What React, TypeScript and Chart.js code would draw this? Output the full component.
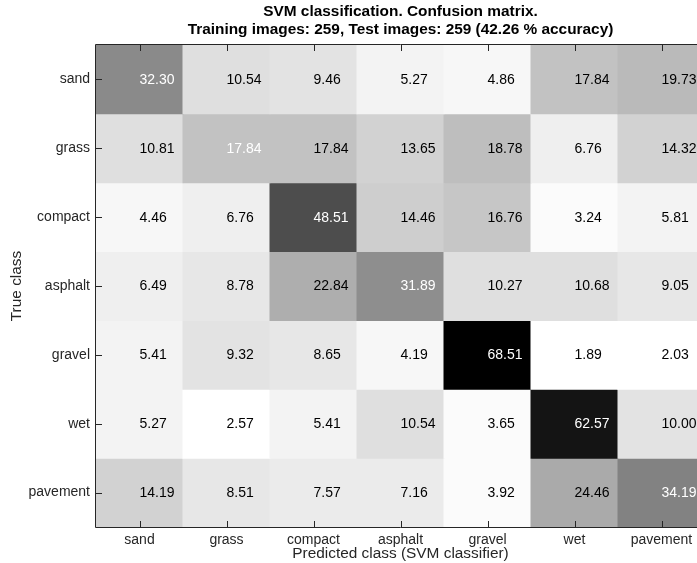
import React, { useEffect, useRef } from "react";
import { Chart, registerables } from "chart.js";

Chart.register(...registerables);

const classes = ["sand", "grass", "compact", "asphalt", "gravel", "wet", "pavement"];

const sandRow = [32.3, 10.54, 9.46, 5.27, 4.86, 17.84, 19.73];
const grassRow = [10.81, 17.84, 17.84, 13.65, 18.78, 6.76, 14.32];
const compactRow = [4.46, 6.76, 48.51, 14.46, 16.76, 3.24, 5.81];
const asphaltRow = [6.49, 8.78, 22.84, 31.89, 10.27, 10.68, 9.05];
const gravelRow = [5.41, 9.32, 8.65, 4.19, 68.51, 1.89, 2.03];
const wetRow = [5.27, 2.57, 5.41, 10.54, 3.65, 62.57, 10.0];
const pavementRow = [14.19, 8.51, 7.57, 7.16, 3.92, 24.46, 34.19];

const matrix = [sandRow, grassRow, compactRow, asphaltRow, gravelRow, wetRow, pavementRow];

const titleLines = [
  "SVM classification. Confusion matrix.",
  "Training images: 259, Test images: 259 (42.26 % accuracy)",
];
const xTitle = "Predicted class (SVM classifier)";
const yTitle = "True class";

const FONT = "'Liberation Sans', Arial, Helvetica, sans-serif";
const AXIS_COLOR = "#262626";

const allVals = matrix.flat();
const vMin = Math.min(...allVals);
const vMax = Math.max(...allVals);

function grayFor(v: number): string {
  let idx = Math.floor(((v - vMin) / (vMax - vMin)) * 64);
  if (idx > 63) idx = 63;
  if (idx < 0) idx = 0;
  const g = Math.round(255 * (1 - idx / 63));
  return `rgb(${g},${g},${g})`;
}

const overlayPlugin = {
  id: "cmOverlay",
  afterDatasetsDraw(chart: any) {
    const { ctx, chartArea, scales } = chart;
    const xs = scales.x;
    const ys = scales.y;
    ctx.save();
    // cell values
    ctx.font = `14px ${FONT}`;
    ctx.textAlign = "left";
    ctx.textBaseline = "middle";
    matrix.forEach((row, i) => {
      row.forEach((v, j) => {
        const x = xs.getPixelForValue(j);
        const y = ys.getPixelForValue(i);
        ctx.fillStyle = i === j ? "#ffffff" : "#000000";
        ctx.fillText(v.toFixed(2), x, y + 0.5);
      });
    });
    // box
    ctx.strokeStyle = AXIS_COLOR;
    ctx.lineWidth = 1;
    ctx.beginPath();
    ctx.rect(chartArea.left - 0.5, chartArea.top - 0.5, chartArea.right - chartArea.left + 1, chartArea.bottom - chartArea.top + 1);
    ctx.stroke();
    // inward ticks
    const tl = 6;
    ctx.beginPath();
    classes.forEach((_, j) => {
      const x = Math.round(xs.getPixelForValue(j)) + 0.5;
      ctx.moveTo(x, chartArea.top);
      ctx.lineTo(x, chartArea.top + tl);
      ctx.moveTo(x, chartArea.bottom);
      ctx.lineTo(x, chartArea.bottom - tl);
    });
    classes.forEach((_, i) => {
      const y = Math.round(ys.getPixelForValue(i)) + 0.5;
      ctx.moveTo(chartArea.left, y);
      ctx.lineTo(chartArea.left + tl, y);
      ctx.moveTo(chartArea.right, y);
      ctx.lineTo(chartArea.right - tl, y);
    });
    ctx.stroke();
    // titles
    const cx = (chartArea.left + chartArea.right) / 2;
    ctx.fillStyle = "#000000";
    ctx.textAlign = "center";
    ctx.textBaseline = "middle";
    ctx.font = `bold 15.4px ${FONT}`;
    ctx.fillText(titleLines[0], cx, 12);
    ctx.fillText(titleLines[1], cx, 30);
    ctx.font = `15.4px ${FONT}`;
    ctx.fillStyle = AXIS_COLOR;
    ctx.fillText(xTitle, cx, 554);
    ctx.save();
    ctx.translate(17, (chartArea.top + chartArea.bottom) / 2);
    ctx.rotate(-Math.PI / 2);
    ctx.fillText(yTitle, 0, 0);
    ctx.restore();
    ctx.restore();
  },
};

export default function App() {
  const canvasRef = useRef<HTMLCanvasElement | null>(null);

  useEffect(() => {
    const canvas = canvasRef.current;
    if (!canvas) return;
    const datasets = matrix.map((row, i) => ({
      label: classes[i],
      data: row.map(() => [i - 0.5, i + 0.5]),
      backgroundColor: row.map((v) => grayFor(v)),
      borderWidth: 0,
      barPercentage: 1,
      categoryPercentage: 1,
      grouped: false,
      inflateAmount: 0.5,
    }));
    const chart = new Chart(canvas, {
      type: "bar",
      data: { labels: classes, datasets: datasets as any },
      options: {
        responsive: false,
        animation: false,
        devicePixelRatio: 1,
        layout: { padding: { left: 0, top: 45, right: 15, bottom: 0 } },
        plugins: {
          legend: { display: false },
          title: { display: false },
          tooltip: { enabled: false },
        },
        scales: {
          x: {
            type: "category",
            offset: true,
            grid: { display: false, drawTicks: false },
            border: { display: false },
            ticks: {
              color: AXIS_COLOR,
              font: { family: FONT, size: 14 },
              padding: 5,
              maxRotation: 0,
              autoSkip: false,
            },
            afterFit: (scale: any) => {
              scale.height = 36;
            },
          },
          y: {
            type: "linear",
            min: -0.5,
            max: 6.5,
            reverse: true,
            grid: { display: false, drawTicks: false },
            border: { display: false },
            afterBuildTicks: (scale: any) => {
              scale.ticks = classes.map((_, i) => ({ value: i }));
            },
            ticks: {
              color: AXIS_COLOR,
              font: { family: FONT, size: 14 },
              padding: 6,
              callback: (v: any) => classes[Math.round(Number(v))] ?? "",
            },
            afterFit: (scale: any) => {
              scale.width = 96;
            },
          },
        },
      },
      plugins: [overlayPlugin],
    });
    return () => chart.destroy();
  }, []);

  return (
    <div style={{ position: "fixed", left: 0, top: 0, width: 697, height: 563, overflow: "hidden", background: "#fff" }}>
      <canvas ref={canvasRef} width={720} height={563} style={{ display: "block", width: 720, height: 563 }} />
    </div>
  );
}
